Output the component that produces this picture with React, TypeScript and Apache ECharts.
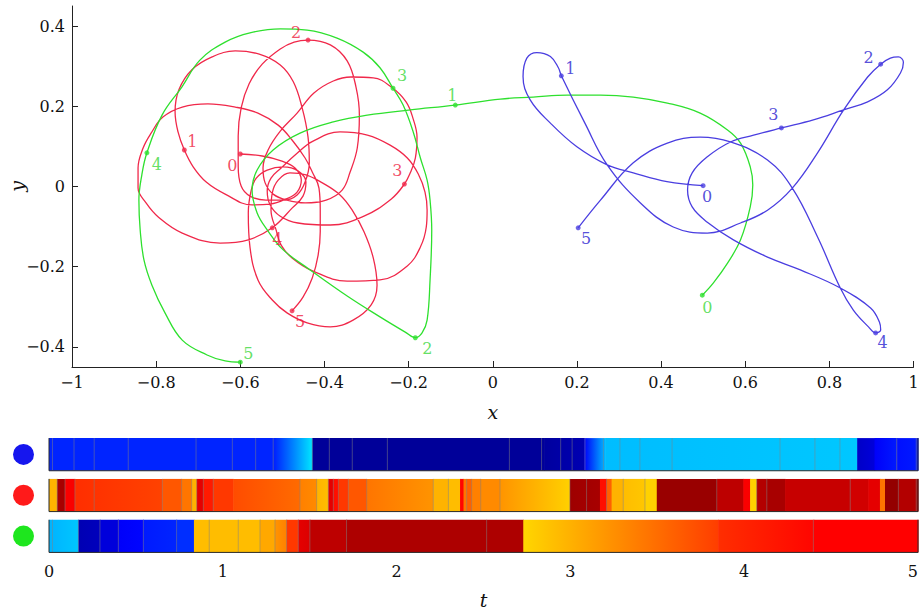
import React, { useEffect, useRef } from 'react';
import * as echarts from 'echarts';

// ---------- trajectory data (x, y) ----------
const redPath: number[][] = [
  // start
  [-0.600,0.081],[-0.548,0.076],[-0.503,0.064],[-0.470,0.046],[-0.455,0.016],[-0.465,-0.014],[-0.491,-0.031],[-0.529,-0.044],
  // loop through 1
  [-0.572,-0.046],[-0.636,-0.019],[-0.681,0.011],[-0.712,0.049],[-0.733,0.091],
  [-0.748,0.136],[-0.755,0.186],[-0.746,0.241],[-0.715,0.291],[-0.667,0.323],[-0.612,0.338],[-0.555,0.330],[-0.505,0.303],
  [-0.474,0.261],[-0.453,0.196],[-0.439,0.123],[-0.436,0.059],[-0.446,0.011],[-0.465,-0.021],[-0.496,-0.034],
  // loop through 2
  [-0.539,-0.034],[-0.577,-0.024],[-0.598,0.001],[-0.605,0.051],[-0.605,0.126],[-0.598,0.196],[-0.579,0.256],[-0.548,0.305],
  [-0.505,0.343],[-0.472,0.360],[-0.439,0.365],[-0.386,0.353],[-0.346,0.313],[-0.325,0.248],[-0.317,0.178],[-0.322,0.096],
  [-0.339,0.036],[-0.358,-0.009],[-0.396,-0.034],[-0.446,-0.041],[-0.489,-0.034],
  // loop through 3
  [-0.522,-0.019],[-0.541,0.009],[-0.546,0.046],[-0.534,0.091],[-0.505,0.138],[-0.465,0.183],[-0.425,0.233],[-0.379,0.263],
  [-0.337,0.273],[-0.284,0.271],[-0.241,0.248],[-0.206,0.211],[-0.189,0.168],[-0.180,0.123],[-0.184,0.071],[-0.196,0.034],
  [-0.210,0.006],[-0.241,-0.031],[-0.306,-0.074],[-0.386,-0.096],[-0.463,-0.091],[-0.505,-0.074],
  // right loop
  [-0.529,-0.046],[-0.536,-0.011],[-0.527,0.021],[-0.503,0.046],[-0.467,0.081],[-0.427,0.113],[-0.363,0.136],[-0.298,0.128],[-0.244,0.103],
  [-0.203,0.071],[-0.177,0.031],[-0.161,-0.014],[-0.156,-0.059],[-0.158,-0.101],[-0.172,-0.151],[-0.203,-0.198],[-0.268,-0.233],
  [-0.346,-0.236],[-0.427,-0.211],[-0.477,-0.178],[-0.503,-0.146],
  // lower loop
  [-0.515,-0.108],[-0.527,-0.059],[-0.524,-0.016],[-0.510,0.016],[-0.482,0.034],[-0.444,0.029],[-0.405,0.009],[-0.363,-0.021],
  [-0.334,-0.059],[-0.306,-0.113],[-0.284,-0.178],[-0.275,-0.246],[-0.289,-0.295],[-0.332,-0.333],[-0.386,-0.350],[-0.441,-0.340],
  [-0.489,-0.315],[-0.524,-0.283],[-0.558,-0.233],[-0.577,-0.151],[-0.581,-0.066],[-0.574,-0.009],
  // left loop through 4
  [-0.562,0.021],[-0.536,0.041],[-0.498,0.049],[-0.463,0.039],[-0.444,0.011],[-0.451,-0.024],[-0.477,-0.054],[-0.524,-0.103],
  [-0.581,-0.133],[-0.648,-0.141],[-0.738,-0.116],[-0.795,-0.076],[-0.824,-0.041],[-0.843,-0.004],[-0.843,0.046],[-0.831,0.096],
  [-0.812,0.133],[-0.784,0.173],[-0.738,0.198],[-0.677,0.206],[-0.612,0.198],[-0.558,0.183],[-0.510,0.153],[-0.477,0.116],
  [-0.446,0.071],
  // final run to 5
  [-0.429,0.036],[-0.413,-0.004],[-0.410,-0.059],[-0.410,-0.113],[-0.415,-0.171],[-0.429,-0.228],[-0.451,-0.276],[-0.477,-0.310],
];

const greenPath: number[][] = [
  [0.498,-0.271],[0.524,-0.241],[0.558,-0.191],[0.589,-0.133],[0.612,-0.051],[0.618,0.004],[0.612,0.049],[0.589,0.108],[0.558,0.141],[0.493,0.183],[0.415,0.208],[0.334,0.223],[0.256,0.228],[0.177,0.228],[0.096,0.223],[0.018,0.218],[-0.089,0.203],
  [-0.196,0.191],[-0.298,0.178],[-0.379,0.161],[-0.458,0.133],[-0.522,0.091],[-0.560,0.041],[-0.572,-0.009],[-0.560,-0.066],[-0.536,-0.108],[-0.498,-0.158],[-0.434,-0.208],[-0.346,-0.273],[-0.268,-0.325],[-0.208,-0.363],[-0.184,-0.377],
  [-0.168,-0.365],[-0.156,-0.333],[-0.149,-0.233],[-0.145,-0.108],[-0.149,-0.034],[-0.156,0.016],[-0.172,0.071],[-0.189,0.136],[-0.213,0.203],[-0.237,0.245],
  [-0.268,0.296],[-0.308,0.335],[-0.370,0.370],[-0.441,0.390],[-0.505,0.393],[-0.577,0.383],[-0.636,0.360],[-0.696,0.315],[-0.739,0.248],[-0.786,0.178],[-0.822,0.084],
  [-0.834,0.029],[-0.841,-0.034],[-0.838,-0.108],[-0.829,-0.183],[-0.810,-0.246],[-0.779,-0.315],[-0.738,-0.383],[-0.679,-0.420],[-0.636,-0.435],[-0.600,-0.438],
];

const bluePath: number[][] = [
  [0.500,0.002],[0.414,0.012],[0.334,0.034],[0.272,0.054],[0.200,0.099],[0.137,0.158],[0.089,0.216],[0.072,0.274],[0.081,0.320],[0.105,0.334],[0.137,0.324],[0.156,0.296],[0.163,0.276],
  [0.219,0.158],[0.272,0.054],[0.351,-0.041],[0.429,-0.101],[0.510,-0.116],[0.589,-0.091],[0.653,-0.059],[0.712,-0.004],[0.772,0.084],[0.834,0.191],[0.891,0.273],[0.922,0.305],
  [0.945,0.320],[0.964,0.323],[0.976,0.310],[0.969,0.283],[0.938,0.241],[0.891,0.211],[0.834,0.191],[0.762,0.166],[0.686,0.146],
  [0.620,0.128],[0.565,0.111],[0.510,0.074],[0.474,0.034],[0.463,-0.009],[0.474,-0.051],[0.510,-0.089],[0.572,-0.133],[0.653,-0.176],[0.731,-0.208],[0.826,-0.253],[0.898,-0.303],[0.919,-0.338],[0.922,-0.358],[0.910,-0.365],
  [0.893,-0.350],[0.857,-0.308],[0.826,-0.253],[0.772,-0.126],[0.712,-0.004],[0.653,0.066],[0.565,0.111],[0.493,0.123],[0.415,0.108],[0.334,0.059],[0.256,-0.034],[0.203,-0.103],
];

// positions at t = 0..5
const redMarks: number[][] = [[-0.600,0.081],[-0.733,0.091],[-0.439,0.365],[-0.210,0.006],[-0.524,-0.103],[-0.477,-0.310]];
const greenMarks: number[][] = [[0.498,-0.271],[-0.089,0.203],[-0.184,-0.377],[-0.237,0.245],[-0.822,0.084],[-0.600,-0.438]];
const blueMarks: number[][] = [[0.500,0.002],[0.163,0.276],[0.922,0.305],[0.686,0.146],[0.910,-0.365],[0.203,-0.103]];
const markLabels = ['0', '1', '2', '3', '4', '5'];

// label offsets (px) for the time labels
const redLabelOffsets = [[-8, 11], [8, -8], [-12, -8], [-7, -14], [5, 12], [8, 11]];
const greenLabelOffsets = [[5, 12], [-3, -10], [12, 11], [9, -13], [10, 12], [8, -9]];
const blueLabelOffsets = [[4, 11], [9, -7], [-12, -7], [-8, -13], [7, 10], [8, 11]];

const yTicks = [-0.4, -0.2, 0, 0.2, 0.4];
const tTicks = [0, 1, 2, 3, 4, 5];
const bodies = ['blue', 'red', 'green'];

// colour strips: [tStart, tEnd, jetStart, jetEnd]
const blueSegments: number[][] = [
  [0, 1.30, 0.16, 0.16], [1.30, 1.50, 0.16, 0.34], [1.50, 1.515, 0.34, 0.34],
  [1.515, 2.85, 0.025, 0.025], [2.85, 3.08, 0.03, 0.05], [3.08, 3.20, 0.12, 0.31],
  [3.20, 4.65, 0.31, 0.32], [4.65, 4.75, 0.07, 0.09], [4.75, 4.88, 0.12, 0.15], [4.88, 5.0, 0.14, 0.15],
];
const redSegments: number[][] = [
  [0, 0.047, 0.70, 0.70], [0.047, 0.092, 0.96, 0.96], [0.092, 0.149, 0.88, 0.88], [0.149, 0.652, 0.83, 0.81],
  [0.652, 0.763, 0.79, 0.79], [0.763, 0.821, 0.76, 0.76], [0.821, 0.85, 0.70, 0.70], [0.85, 0.888, 0.90, 0.90],
  [0.888, 0.945, 0.85, 0.85], [0.945, 1.06, 0.82, 0.82], [1.06, 1.444, 0.80, 0.77], [1.444, 1.54, 0.75, 0.74],
  [1.54, 1.607, 0.70, 0.69], [1.607, 1.636, 0.90, 0.90], [1.636, 1.665, 0.86, 0.86], [1.665, 1.722, 0.82, 0.82],
  [1.722, 1.828, 0.79, 0.79], [1.828, 2.211, 0.76, 0.73], [2.211, 2.298, 0.70, 0.70], [2.298, 2.365, 0.69, 0.69],
  [2.365, 2.385, 0.87, 0.87], [2.385, 2.403, 0.76, 0.76], [2.403, 2.432, 0.78, 0.78], [2.432, 2.484, 0.75, 0.75],
  [2.484, 2.595, 0.74, 0.74], [2.595, 2.997, 0.73, 0.67], [2.997, 3.17, 0.97, 0.96], [3.17, 3.208, 0.86, 0.86],
  [3.208, 3.237, 0.78, 0.78], [3.237, 3.304, 0.70, 0.70], [3.304, 3.429, 0.69, 0.68], [3.429, 3.497, 0.67, 0.67],
  [3.497, 3.842, 0.975, 0.975], [3.842, 3.995, 0.94, 0.94], [3.995, 4.034, 0.88, 0.88], [4.034, 4.072, 0.67, 0.67],
  [4.072, 4.13, 0.95, 0.95], [4.13, 4.235, 0.96, 0.96], [4.235, 4.61, 0.93, 0.93], [4.61, 4.714, 0.92, 0.92],
  [4.714, 4.781, 0.90, 0.90], [4.781, 4.81, 0.76, 0.76], [4.81, 4.887, 0.98, 0.98], [4.887, 5.0, 0.95, 0.95],
];
const greenSegments: number[][] = [
  [0, 0.169, 0.30, 0.32], [0.169, 0.293, 0.05, 0.06], [0.293, 0.399, 0.09, 0.09], [0.399, 0.543, 0.12, 0.13],
  [0.543, 0.734, 0.15, 0.16], [0.734, 0.834, 0.17, 0.17], [0.834, 1.214, 0.69, 0.69], [1.214, 1.30, 0.71, 0.71],
  [1.30, 1.367, 0.73, 0.75], [1.367, 1.434, 0.82, 0.82], [1.434, 1.501, 0.90, 0.91], [1.501, 1.712, 0.94, 0.94],
  [1.712, 2.729, 0.955, 0.955], [2.729, 3.85, 0.665, 0.815], [3.85, 4.40, 0.83, 0.87], [4.40, 5.0, 0.875, 0.875],
];
// thin cell edges inside the strips
const blueEdges = [0.02, 0.144, 0.26, 0.456, 0.846, 1.055, 1.189, 1.29, 1.515, 1.613, 1.745, 1.947, 2.649, 2.834, 2.944, 3.01, 3.084, 3.19, 3.285, 3.40, 3.585, 4.206, 4.407, 4.551, 4.877, 4.99];
const redEdges = [0.047, 0.092, 0.149, 0.26, 0.652, 0.763, 0.821, 0.85, 0.888, 0.945, 1.444, 1.54, 1.607, 1.636, 1.665, 1.722, 1.828, 2.211, 2.298, 2.403, 2.432, 2.484, 2.595, 2.997, 3.093, 3.208, 3.304, 3.429, 3.842, 4.072, 4.13, 4.61, 4.887, 4.99];
const greenEdges = [0.02, 0.169, 0.293, 0.399, 0.543, 0.734, 0.922, 1.089, 1.214, 1.30, 1.367, 1.434, 1.501, 1.712, 2.518, 4.398];

// ---------- styling ----------
const SERIF = 'DejaVu Serif';
const RED = '#f0284a';
const GREEN = '#2ee02e';
const BLUE = '#4a3ee0';
const RED_T = '#ee2040';
const GREEN_T = '#3cd83c';
const BLUE_T = '#2a22d0';
const DOT = { blue: '#1616ee', red: '#ff1a1a', green: '#1ee61e' };

function jet(v: number): string {
  const c = (x: number) => Math.max(0, Math.min(1, x));
  const r = c(1.5 - Math.abs(4 * v - 3));
  const g = c(1.5 - Math.abs(4 * v - 2));
  const b = c(1.5 - Math.abs(4 * v - 1));
  return `rgb(${Math.round(r * 255)},${Math.round(g * 255)},${Math.round(b * 255)})`;
}

const fmt = (v: number) => {
  const s = Math.abs(v) < 1e-9 ? '0' : String(Math.round(v * 10) / 10);
  return s.replace('-', '\u2212');
};

function marks(points: number[][], offsets: number[][]) {
  return points.map((p, i) => ({ value: p, label: { offset: offsets[i] } }));
}

export default function App() {
  const ref = useRef<HTMLDivElement>(null);
  useEffect(() => {
    const chart = echarts.init(ref.current!, null, { renderer: 'svg' });

    const segData: number[][] = [];
    [blueSegments, redSegments, greenSegments].forEach((segs, row) =>
      segs.forEach((s) => segData.push([s[0], s[1], row, s[2], s[3]]))
    );
    const edgeData: number[][] = [];
    [blueEdges, redEdges, greenEdges].forEach((es, row) => es.forEach((t) => edgeData.push([t, row])));

    const markSeries = (data: any[], color: string, tcolor: string) => ({
      type: 'scatter',
      xAxisIndex: 0,
      yAxisIndex: 0,
      data,
      symbol: 'circle',
      symbolSize: 5,
      itemStyle: { color },
      z: 5,
      label: {
        show: true,
        position: 'inside',
        formatter: (p: any) => markLabels[p.dataIndex],
        color: tcolor,
        fontFamily: SERIF,
        fontSize: 16,
      },
    });

    const lineSeries = (data: number[][], color: string, z: number) => ({
      type: 'line',
      xAxisIndex: 0,
      yAxisIndex: 0,
      data,
      showSymbol: false,
      smooth: 0.4,
      lineStyle: { color, width: 1.3 },
      z,
    });

    const option: any = {
      animation: false,
      backgroundColor: '#ffffff',
      grid: [
        { left: 72, right: 6.5, top: 6, bottom: 248, outerBoundsMode: 'none', containLabel: false },
        { left: 49, right: 2, top: 434, height: 122.5, outerBoundsMode: 'none', containLabel: false },
      ],
      xAxis: [
        {
          gridIndex: 0, type: 'value', min: -1, max: 1, interval: 0.2,
          axisLine: { onZero: false, lineStyle: { color: '#222', width: 1 } },
          axisTick: { inside: true, length: 6, lineStyle: { color: '#222' } },
          splitLine: { show: false },
          axisLabel: { formatter: fmt, fontFamily: SERIF, fontSize: 16, color: '#111', margin: 7 },
          name: 'x', nameLocation: 'middle', nameGap: 35, nameMoveOverlap: false,
          nameTextStyle: { fontFamily: SERIF, fontStyle: 'italic', fontSize: 19, color: '#111' },
        },
        {
          gridIndex: 1, type: 'value', min: 0, max: 5, interval: 1,
          axisLine: { show: false, onZero: false }, axisTick: { show: false }, splitLine: { show: false },
          axisLabel: {
            fontFamily: SERIF, fontSize: 16, color: '#111', margin: 7,
            formatter: (v: number) => String(v), customValues: tTicks, alignMaxLabel: 'right',
          },
          name: 't', nameLocation: 'middle', nameGap: 34, nameMoveOverlap: false,
          nameTextStyle: { fontFamily: SERIF, fontStyle: 'italic', fontSize: 19, color: '#111' },
        },
      ],
      yAxis: [
        {
          gridIndex: 0, type: 'value', min: -0.45, max: 0.45,
          axisLine: { show: true, onZero: false, lineStyle: { color: '#222', width: 1 } },
          axisTick: { show: true, inside: true, length: 6, customValues: yTicks, lineStyle: { color: '#222' } },
          splitLine: { show: false },
          axisLabel: { formatter: fmt, customValues: yTicks, fontFamily: SERIF, fontSize: 16, color: '#111', margin: 7 },
          name: 'y', nameLocation: 'middle', nameGap: 46, nameMoveOverlap: false,
          nameTextStyle: { fontFamily: SERIF, fontStyle: 'italic', fontSize: 19, color: '#111' },
        },
        {
          gridIndex: 1, type: 'category', data: bodies, inverse: true,
          axisLine: { show: false, onZero: false }, axisTick: { show: false }, splitLine: { show: false },
          axisLabel: {
            margin: 15,
            formatter: (v: string) => `{${v}| }`,
            rich: {
              blue: { width: 21, height: 21, borderRadius: 10.5, backgroundColor: DOT.blue },
              red: { width: 21, height: 21, borderRadius: 10.5, backgroundColor: DOT.red },
              green: { width: 21, height: 21, borderRadius: 10.5, backgroundColor: DOT.green },
            },
          },
        },
      ],
      series: [
        lineSeries(redPath, RED, 2),
        lineSeries(greenPath, GREEN, 3),
        lineSeries(bluePath, BLUE, 3),
        markSeries(marks(redMarks, redLabelOffsets), RED, RED_T),
        markSeries(marks(greenMarks, greenLabelOffsets), GREEN, GREEN_T),
        markSeries(marks(blueMarks, blueLabelOffsets), BLUE, BLUE_T),
        {
          type: 'custom', xAxisIndex: 1, yAxisIndex: 1, data: segData, z: 2,
          renderItem: (params: any, api: any) => {
            const t0 = api.value(0), t1 = api.value(1), row = api.value(2);
            const v0 = api.value(3), v1 = api.value(4);
            const p0 = api.coord([t0, row]);
            const p1 = api.coord([t1, row]);
            const h = api.size([0, 1])[1] * 0.8;
            const fill = v0 === v1 ? jet(v0) : new echarts.graphic.LinearGradient(0, 0, 1, 0, [
              { offset: 0, color: jet(v0) }, { offset: 1, color: jet(v1) },
            ]);
            return {
              type: 'rect',
              shape: { x: p0[0], y: p0[1] - h / 2, width: p1[0] - p0[0] + 0.6, height: h },
              style: { fill },
            };
          },
        },
        {
          type: 'custom', xAxisIndex: 1, yAxisIndex: 1, data: edgeData, z: 3,
          renderItem: (params: any, api: any) => {
            const p = api.coord([api.value(0), api.value(1)]);
            const h = api.size([0, 1])[1] * 0.8;
            return {
              type: 'line',
              shape: { x1: p[0], y1: p[1] - h / 2, x2: p[0], y2: p[1] + h / 2 },
              style: { stroke: 'rgba(130,130,130,0.5)', lineWidth: 1 },
            };
          },
        },
        {
          type: 'custom', xAxisIndex: 1, yAxisIndex: 1, data: bodies.map((b, i) => [0, 5, i]), z: 4,
          renderItem: (params: any, api: any) => {
            const row = api.value(2);
            const a = api.coord([api.value(0), row]);
            const b = api.coord([api.value(1), row]);
            const h = api.size([0, 1])[1] * 0.8;
            return {
              type: 'polyline',
              shape: { points: [[a[0], a[1] - h / 2], [a[0], a[1] + h / 2], [b[0], b[1] + h / 2], [b[0], b[1] - h / 2]] },
              style: { stroke: '#2a2a2a', lineWidth: 1, fill: null },
            };
          },
        },
      ],
    };
    chart.setOption(option);
    return () => chart.dispose();
  }, []);
  return (
    <div
      ref={ref}
      style={{ position: 'fixed', left: 0, top: 0, width: 920, height: 615, background: '#fff' }}
    />
  );
}
